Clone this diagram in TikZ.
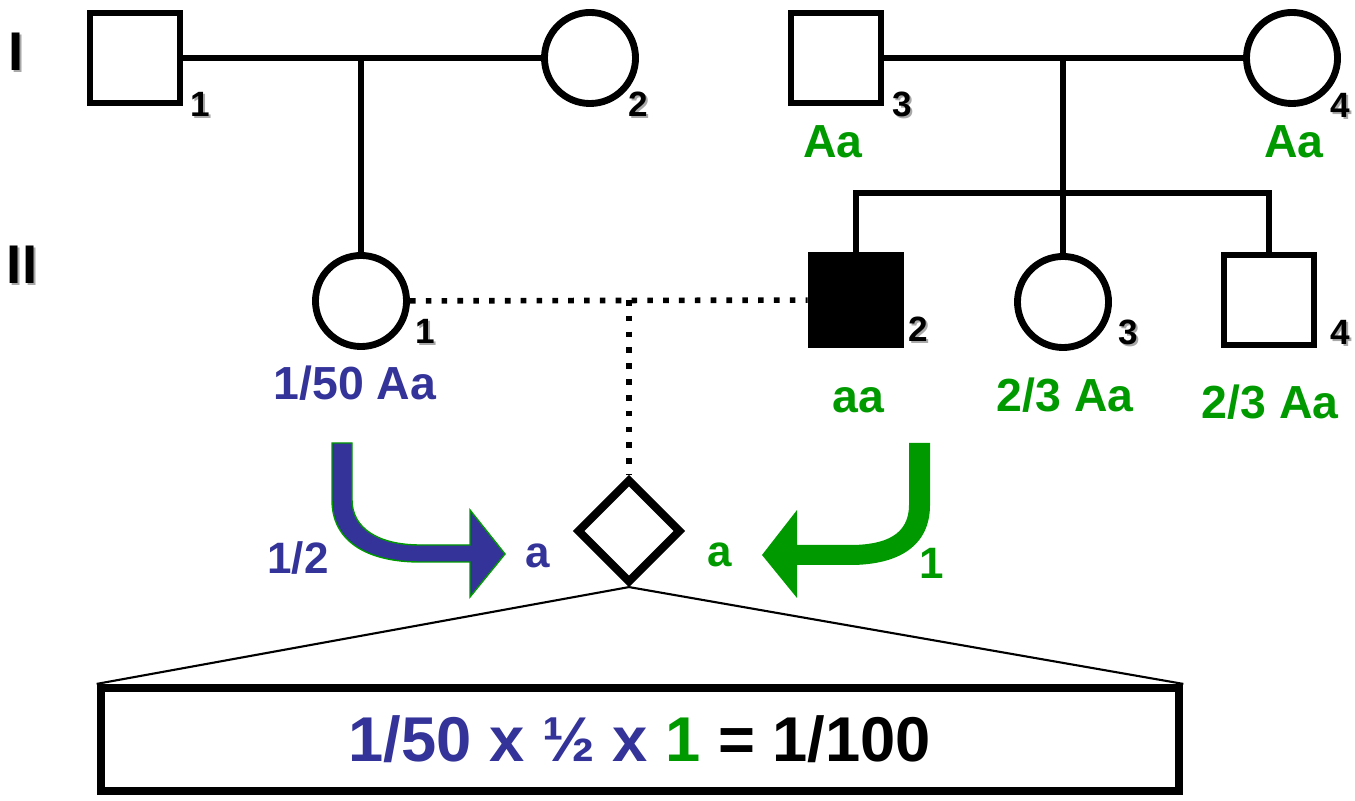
\documentclass[tikz,border=0pt]{standalone}
\usepackage{fontspec}
\setmainfont{Liberation Sans}
\usetikzlibrary{shapes.geometric}
\definecolor{pdblue}{HTML}{333399}
\definecolor{pdgreen}{HTML}{009900}
\definecolor{pdshade}{HTML}{A8A8A8}
\newcommand{\shd}[1]{\makebox[0pt][l]{\hspace{0.6pt}\raisebox{-0.6pt}{\textcolor{pdshade}{#1}}}#1}

\begin{document}
\begin{tikzpicture}[x=0.01cm, y=-0.01cm, line width=1.95pt,
  male/.style={draw, rectangle, minimum size=0.90cm, inner sep=0pt},
  female/.style={draw, circle, minimum size=0.91cm, inner sep=0pt},
  gen/.style={font=\bfseries\fontsize{15.5}{18}\selectfont, inner sep=0pt},
  num/.style={font=\bfseries\fontsize{10}{12}\selectfont, inner sep=0pt},
  geno/.style={font=\bfseries\fontsize{13.2}{15}\selectfont, text=pdgreen, inner sep=0pt},
  frac/.style={font=\bfseries\fontsize{12.5}{15}\selectfont, inner sep=0pt},
  mating/.style={line width=1.6pt, dash pattern=on 1.6pt off 2.9pt},
  link/.style={line width=0.6pt}]
  \useasboundingbox (0,0) rectangle (1355,801);
  % generation labels
  \node[gen] (genI) at (16,53) {\shd{I}};
  \node[gen] (genII) at (22,266) {\shd{II}};
  % generation I
  \node[male] (i1) at (135,58) {};
  \node[female] (i2) at (590,58) {};
  \node[male] (i3) at (836,58) {};
  \node[female] (i4) at (1292,58) {};
  \node[num] (ni1) at (200,105) {\shd{1}};
  \node[num] (ni2) at (638,105) {\shd{2}};
  \node[num] (ni3) at (902,105) {\shd{3}};
  \node[num] (ni4) at (1340,106) {\shd{4}};
  \node[geno] (gi3) at (833,142) {Aa};
  \node[geno] (gi4) at (1294,142) {Aa};
  % generation II
  \node[female] (ii1) at (361,301) {};
  \node[male, fill=black] (ii2) at (856,300) {};
  \node[female] (ii3) at (1063,302) {};
  \node[male] (ii4) at (1269,300) {};
  \node[num] (nii1) at (425,332) {\shd{1}};
  \node[num] (nii2) at (918,330) {\shd{2}};
  \node[num] (nii3) at (1128,333) {\shd{3}};
  \node[num] (nii4) at (1340,333) {\shd{4}};
  \node[geno, text=pdblue] (gii1) at (355,383) {1/50 Aa};
  \node[geno] (gii2) at (858,400) {aa};
  \node[geno] (gii3) at (1065,395) {2/3 Aa};
  \node[geno] (gii4) at (1270,402) {2/3 Aa};
  % pedigree lines
  \coordinate (mate1) at (361,58);
  \coordinate (mate2) at (1063,58);
  \coordinate (sib) at (1063,193);
  \draw (i1) -- (i2);
  \draw (mate1) -- (ii1.north);
  \draw (i3) -- (i4);
  \draw (mate2) -- (ii3.north);
  \draw (ii2.north) |- (sib) -| (ii4.north);
  % consanguineous mating and the unborn child
  \node[draw, diamond, line width=2.3pt, minimum size=1.04cm, inner sep=0pt] (child) at (629,531) {};
  \coordinate (mate3) at (629,300);
  \draw[mating] (ii1) -- (ii2);
  \draw[mating] (mate3) -- (child.north);
  % transmitted alleles
  \filldraw[fill=pdblue, draw=pdgreen, line width=0.4pt]
    (332,443) -- (332,500) .. controls (332,542) and (368,562) .. (420,562)
    -- (470,562) -- (470,597) -- (505,554) -- (470,510) -- (470,545) -- (420,545)
    .. controls (378,545) and (352,528) .. (352,500) -- (352,443) -- cycle;
  \fill[pdgreen]
    (909,443) -- (909,505) .. controls (909,535) and (885,545) .. (850,545)
    -- (797,545) -- (797,510) -- (762,555) -- (797,598) -- (797,565) -- (850,565)
    .. controls (900,565) and (930,545) .. (930,505) -- (930,443) -- cycle;
  \node[frac, text=pdblue] (pm) at (298,558) {1/2};
  \node[frac, text=pdblue] (am) at (538,556) {a};
  \node[frac, text=pdgreen] (ap) at (720,555) {a};
  \node[frac, text=pdgreen] (pp) at (932,563) {1};
  % risk calculation
  \node[draw, line width=2.3pt, minimum width=10.78cm, minimum height=1.03cm,
    font=\bfseries\fontsize{18}{22}\selectfont] (res) at (640,739.5)
    {\textcolor{pdblue}{1/50 x ½ x} \textcolor{pdgreen}{1} = 1/100};
  \draw[link] (child.south) -- (res.north west);
  \draw[link] (child.south) -- (res.north east);
\end{tikzpicture}
\end{document}
